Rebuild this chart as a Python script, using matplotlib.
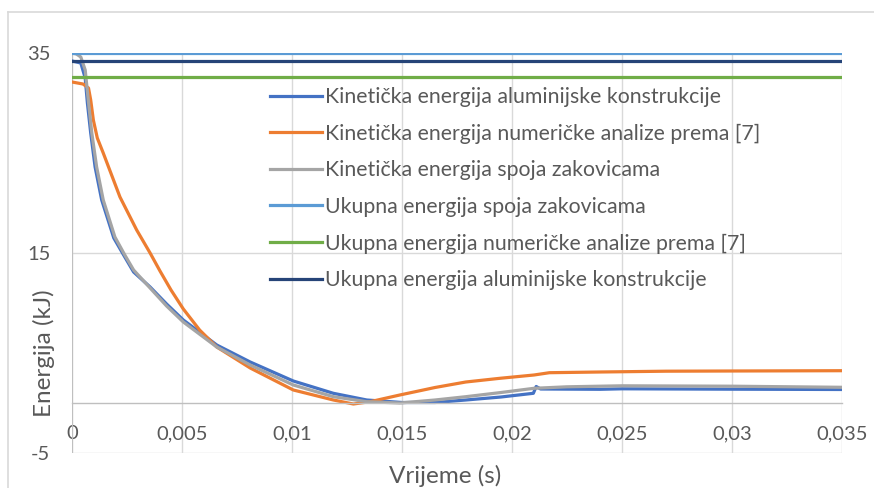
"""
Kinetic and total energy vs time for the riveted joint, the aluminium
structure and the reference numerical analysis [7].
"""

import matplotlib.pyplot as plt
from matplotlib.lines import Line2D

plt.rcParams["font.family"] = ["Lato", "DejaVu Sans"]
plt.rcParams["axes.unicode_minus"] = False

# time (s) / energy (kJ)
t_alu = [0, 0.0004, 0.0006, 0.0007, 0.00085, 0.00105, 0.00135, 0.0019,
         0.0024, 0.0028, 0.00355, 0.0043, 0.00506, 0.00658, 0.0081, 0.01006,
         0.01188, 0.0134, 0.0150, 0.0165, 0.0179, 0.0195, 0.02097, 0.0211,
         0.0213, 0.024, 0.025, 0.030, 0.035]
e_alu = [34.2, 34.0, 32.5, 30.0, 27.0, 23.6, 20.3, 16.5,
         14.6, 13.1, 11.6, 9.9, 8.3, 5.8, 4.1, 2.2,
         0.97, 0.3, 0.05, 0.05, 0.3, 0.6, 0.97, 1.65,
         1.4, 1.37, 1.42, 1.38, 1.35]

t_num = [0, 0.0005, 0.00075, 0.00085, 0.00097, 0.00115, 0.00142, 0.00218,
         0.00294, 0.00355, 0.004, 0.0045, 0.00506, 0.0058, 0.00658, 0.0081,
         0.01006, 0.01188, 0.01279, 0.01355, 0.0149, 0.0165, 0.0179, 0.01945,
         0.021, 0.0217, 0.024, 0.027, 0.030, 0.035]
e_num = [32.1, 31.9, 31.5, 30.3, 28.3, 26.5, 25.0, 20.6,
         17.3, 15.0, 13.2, 11.3, 9.4, 7.3, 5.6, 3.5,
         1.3, 0.3, -0.1, 0.13, 0.8, 1.55, 2.1, 2.47,
         2.8, 3.03, 3.1, 3.18, 3.2, 3.23]

t_riv = [0, 0.0002, 0.0004, 0.0006, 0.00074, 0.0009, 0.00112, 0.00142,
         0.00195, 0.0024, 0.0028, 0.00355, 0.0043, 0.00506, 0.00658, 0.0081,
         0.01006, 0.01188, 0.0134, 0.0149, 0.0165, 0.0179, 0.0195, 0.021,
         0.0225, 0.025, 0.030, 0.035]
e_riv = [35.0, 34.9, 34.6, 33.3, 30.3, 27.0, 23.6, 20.3,
         16.6, 14.8, 13.3, 11.5, 9.7, 8.1, 5.6, 3.8,
         1.8, 0.63, 0.13, 0.0, 0.3, 0.63, 1.05, 1.47,
         1.62, 1.72, 1.68, 1.57]

t_span = [0, 0.035]
total_riv = [35.0, 35.0]
total_num = [32.6, 32.6]
total_alu = [34.2, 34.2]

x_ticks = [0, 0.005, 0.01, 0.015, 0.02, 0.025, 0.03, 0.035]
x_labels = ["0", "0,005", "0,01", "0,015", "0,02", "0,025", "0,03", "0,035"]
y_ticks = [-5, 15, 35]

fig = plt.figure(figsize=(8.74, 4.88), dpi=100)
ax = fig.add_axes([72 / 874, 1 - 453 / 488, 770 / 874, 400 / 488])

lw = 2.3
ax.plot(t_alu, e_alu, color="#4472C4", lw=lw,
        label="Kinetička energija aluminijske konstrukcije")
ax.plot(t_num, e_num, color="#ED7D31", lw=lw,
        label="Kinetička energija numeričke analize prema [7]")
ax.plot(t_riv, e_riv, color="#A5A5A5", lw=lw,
        label="Kinetička energija spoja zakovicama")
ax.plot(t_span, total_riv, color="#5B9BD5", lw=lw,
        label="Ukupna energija spoja zakovicama")
ax.plot(t_span, total_num, color="#70AD47", lw=lw,
        label="Ukupna energija numeričke analize prema [7]")
ax.plot(t_span, total_alu, color="#264478", lw=lw,
        label="Ukupna energija aluminijske konstrukcije")

ax.set_xlim(0, 0.035)
ax.set_ylim(-5, 35)
ax.set_xticks(x_ticks)
ax.set_xticklabels(x_labels)
ax.set_yticks(y_ticks)

# Excel-ish look: light grid, horizontal axis crossing at 0
ax.grid(True, color="#D9D9D9", lw=1.0)
ax.set_axisbelow(True)
for s in ["top", "right", "left"]:
    ax.spines[s].set_visible(False)
ax.spines["bottom"].set_position(("data", 0))
ax.spines["bottom"].set_color("#BFBFBF")
ax.spines["bottom"].set_linewidth(1.0)
ax.tick_params(axis="both", length=0, labelsize=14.5, colors="#595959")
ax.tick_params(axis="x", pad=16)
ax.tick_params(axis="y", pad=15.5)
ax.axvline(0, color="#BFBFBF", lw=1.5, zorder=1)

fig.text(44 / 874, 1 - 353 / 488, "Energija (kJ)", rotation=90, fontsize=17.5,
         color="#595959", ha="center", va="center")
fig.text(445 / 874, 1 - 476 / 488, "Vrijeme (s)", fontsize=17.5,
         color="#595959", ha="center", va="center")

leg = ax.legend(loc="upper left", bbox_to_anchor=(270 / 874, 1 - 87 / 488),
                bbox_transform=fig.transFigure, frameon=False, fontsize=15.3,
                handlelength=2.45, handletextpad=0.15, labelspacing=0.78,
                borderaxespad=0, borderpad=0)
for txt in leg.get_texts():
    txt.set_color("#595959")

# outer chart frame
fig.add_artist(Line2D([8 / 874, 1], [1 - 12 / 488, 1 - 12 / 488],
                      transform=fig.transFigure, color="#D9D9D9", lw=1.2))
fig.add_artist(Line2D([8 / 874, 8 / 874], [0, 1 - 12 / 488],
                      transform=fig.transFigure, color="#D9D9D9", lw=1.2))

fig.savefig("out.png", dpi=100)
